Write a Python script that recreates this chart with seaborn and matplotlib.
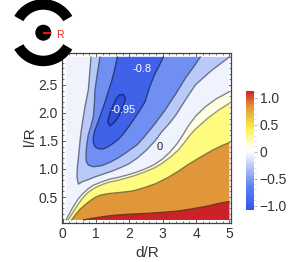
import numpy as np
import pandas as pd
import matplotlib
matplotlib.use('Agg')
import matplotlib.pyplot as plt
from matplotlib.colors import LinearSegmentedColormap, Normalize
from matplotlib.patches import Wedge, Circle
from matplotlib.cm import ScalarMappable
from matplotlib.ticker import MultipleLocator
import seaborn as sns

# Contour curves
d_light = [0.85, 0.81, 0.77, 0.72, 0.67, 0.60, 0.54, 0.49, 0.44, 0.43, 0.47, 0.58, 0.72, 0.97, 1.22, 1.47, 1.72, 1.98, 2.23, 2.50, 2.77, 2.98, 3.18, 3.38, 3.68, 3.98, 4.45, 5.0]
l_light = [3.0, 2.70, 2.41, 2.26, 2.11, 1.85, 1.61, 1.30, 1.02, 0.85, 0.73, 0.77, 0.80, 0.86, 0.91, 0.96, 1.02, 1.09, 1.19, 1.33, 1.50, 1.67, 1.80, 1.95, 2.23, 2.50, 2.75, 3.0]
d_mid = [1.12, 1.04, 0.97, 0.95, 0.92, 0.85, 0.77, 0.72, 0.70, 0.71, 0.77, 0.92, 1.17, 1.42, 1.67, 1.92, 2.23, 2.47, 2.77, 3.07, 3.38, 3.68, 3.90, 4.13]
l_mid = [3.0, 2.70, 2.41, 2.15, 1.93, 1.77, 1.61, 1.42, 1.25, 1.13, 1.07, 1.04, 1.06, 1.12, 1.20, 1.30, 1.43, 1.59, 1.81, 2.05, 2.33, 2.62, 2.80, 3.0]
d_deep = [1.64, 1.57, 1.48, 1.36, 1.24, 1.13, 1.03, 0.96, 0.92, 0.92, 0.97, 1.08, 1.22, 1.37, 1.52, 1.67, 1.81, 2.0, 2.17, 2.33, 2.47, 2.62, 2.77, 2.90, 3.02]
l_deep = [3.0, 2.80, 2.59, 2.36, 2.14, 1.95, 1.79, 1.68, 1.57, 1.47, 1.40, 1.36, 1.36, 1.40, 1.46, 1.53, 1.62, 1.77, 1.92, 2.06, 2.20, 2.48, 2.70, 2.85, 3.0]
d_core = [1.82, 1.89, 1.80, 1.67, 1.55, 1.42, 1.35, 1.42, 1.52, 1.60, 1.70, 1.82]
l_core = [2.33, 2.26, 2.10, 1.93, 1.83, 1.77, 1.84, 2.0, 2.14, 2.25, 2.32, 2.33]
d_zero = [0.10, 0.20, 0.32, 0.47, 0.62, 0.77, 0.92, 1.17, 1.42, 1.67, 1.92, 2.20, 2.47, 2.75, 2.98, 3.20, 3.43, 3.60, 3.77, 4.0, 4.28, 4.60, 5.0]
l_zero = [0.09, 0.20, 0.33, 0.47, 0.57, 0.65, 0.71, 0.77, 0.82, 0.85, 0.89, 0.94, 1.00, 1.08, 1.17, 1.29, 1.45, 1.60, 1.77, 1.95, 2.11, 2.25, 2.38]
d_cream = [0.16, 0.28, 0.42, 0.57, 0.72, 0.87, 1.02, 1.22, 1.42, 1.67, 1.92, 2.20, 2.47, 2.75, 2.98, 3.25, 3.47, 3.65, 3.80, 3.98, 4.38, 4.70, 5.0]
l_cream = [0.09, 0.20, 0.33, 0.46, 0.56, 0.63, 0.68, 0.73, 0.77, 0.80, 0.84, 0.89, 0.95, 1.02, 1.10, 1.22, 1.34, 1.47, 1.59, 1.71, 1.92, 2.06, 2.17]
d_yellow = [0.27, 0.38, 0.52, 0.67, 0.82, 0.97, 1.12, 1.37, 1.62, 1.87, 2.12, 2.47, 2.80, 3.17, 3.47, 3.77, 4.10, 4.48, 4.75, 5.0]
l_yellow = [0.09, 0.18, 0.28, 0.36, 0.43, 0.49, 0.53, 0.56, 0.575, 0.59, 0.61, 0.67, 0.74, 0.85, 0.96, 1.08, 1.20, 1.33, 1.41, 1.47]
d_red = [0.62, 0.90, 1.22, 1.57, 1.92, 2.62, 3.10, 3.47, 3.90, 4.28, 4.65, 5.0]
l_red = [0.09, 0.12, 0.15, 0.175, 0.19, 0.21, 0.23, 0.25, 0.29, 0.33, 0.38, 0.42]

x_ticks = [0, 1, 2, 3, 4, 5]
y_ticks = [0.5, 1.0, 1.5, 2.0, 2.5]
y_labels = ['0.5', '1.0', '1.5', '2.0', '2.5']
bar_ticks = [-1.0, -0.5, 0, 0.5, 1.0]
bar_labels = ['\u22121.0', '\u22120.5', '0', '0.5', '1.0']

sns.set_style('ticks')
plt.rcParams['font.family'] = ['Liberation Sans', 'DejaVu Sans']
text_col = '#333333'
W, H = 291, 262

fig = plt.figure(figsize=(W / 100, H / 100), dpi=100)
ax = fig.add_axes([62 / W, (H - 222.5) / H, 169 / W, 169.5 / H])
ax.set_xlim(-0.02, 5.05)
ax.set_ylim(0.045, 3.07)

# Background band, then each region on top of the previous one
x0, x1, y0, y1 = 0.1, 5.0, 0.09, 3.0
ax.fill([x0, x1, x1, x0], [y0, y0, y1, y1], color='#EEF3FE', lw=0, zorder=1)
ax.fill(d_light, l_light, color='#B9C9F8', lw=0, zorder=1.1)
ax.fill(d_mid, l_mid, color='#6F90F2', lw=0, zorder=1.2)
ax.fill(d_deep, l_deep, color='#3F62E8', lw=0, zorder=1.3)
ax.fill(d_core, l_core, color='#2E4FDC', lw=0, zorder=1.4)
ax.fill(d_zero + [x1], l_zero + [y0], color='#FEFEE3', lw=0, zorder=1.5)
ax.fill(d_cream + [x1], l_cream + [y0], color='#FFFB7F', lw=0, zorder=1.6)
ax.fill(d_yellow + [x1], l_yellow + [y0], color='#E19639', lw=0, zorder=1.7)
ax.fill(d_red + [x1], l_red + [y0], color='#CD2129', lw=0, zorder=1.8)

curves = [(d_light, l_light, '#6E7488'), (d_mid, l_mid, '#505C88'), (d_deep, l_deep, '#2A3A80'),
          (d_core, l_core, '#1A2A80'), (d_zero, l_zero, '#858585'), (d_cream, l_cream, '#99997A'),
          (d_yellow, l_yellow, '#84763A'), (d_red, l_red, '#6E3A1A')]
for xs, ys, col in curves:
    df = pd.DataFrame({'d': xs, 'l': ys})
    sns.lineplot(data=df, x='d', y='l', sort=False, estimator=None, color=col, lw=1.0, ax=ax, zorder=3)

ax.text(2.38, 2.79, '-0.8', color='white', fontsize=8, ha='center', va='center', zorder=4)
ax.text(1.81, 2.05, '-0.95', color='white', fontsize=8, ha='center', va='center', zorder=4)
ax.text(2.92, 1.39, '0', color='#222222', fontsize=8, ha='center', va='center', zorder=4)

ax.set_xticks(x_ticks)
ax.set_yticks(y_ticks)
ax.set_yticklabels(y_labels)
ax.xaxis.set_minor_locator(MultipleLocator(0.2))
ax.yaxis.set_minor_locator(MultipleLocator(0.1))
ax.tick_params(which='major', direction='in', top=True, right=True, length=3, width=0.6, color='#444444',
               labelsize=10, labelcolor=text_col, pad=3)
ax.tick_params(which='minor', direction='in', top=True, right=True, length=1.5, width=0.5, color='#444444')
for s in ax.spines.values():
    s.set_visible(True)
    s.set_color('#444444')
    s.set_linewidth(0.9)
ax.set_xlabel('')
ax.set_ylabel('')
fig.text(147 / W, (H - 253) / H, 'd/R', fontsize=11, color=text_col, ha='center', va='center')
fig.text(30 / W, (H - 137) / H, 'l/R', fontsize=11, color=text_col, ha='center', va='center', rotation=90)

# Colour bar
cmap = LinearSegmentedColormap.from_list('rb', [(0.0, '#3355EE'), (0.2, '#5F82F0'), (0.37, '#B9C9F8'),
                                                (0.49, '#FFFFFF'), (0.54, '#FEFEE3'), (0.68, '#FFF04A'),
                                                (0.87, '#E19639'), (1.0, '#CD2129')])
cax = fig.add_axes([246 / W, (H - 210) / H, 8 / W, 119.3 / H])
cb = fig.colorbar(ScalarMappable(Normalize(-1.08, 1.13), cmap), cax=cax)
cb.outline.set_visible(False)
cb.set_ticks(bar_ticks)
cb.set_ticklabels(bar_labels)
cb.ax.yaxis.set_minor_locator(MultipleLocator(0.1))
cb.ax.tick_params(which='major', length=2.5, width=0.5, color='#999999', labelsize=10, labelcolor=text_col, pad=1.5)
cb.ax.tick_params(which='minor', length=1.5, width=0.4, color='#BBBBBB')

# Sketch of the ring and disc in the corner, in pixel coordinates
over = fig.add_axes([0, 0, 1, 1], facecolor='none')
over.set_xlim(0, W)
over.set_ylim(0, H)
over.axis('off')
cx, cy = 43.3, H - 32.7
over.add_patch(Wedge((cx, cy), 33.5, 30, 150, width=10.5, color='black', lw=0))
over.add_patch(Wedge((cx, cy), 33.5, 210, 330, width=10.5, color='black', lw=0))
over.add_patch(Circle((cx, cy), 8, color='black', lw=0))
over.plot([cx, cx + 7.5], [cy, cy], color='#EE1111', lw=1.5, solid_capstyle='butt')
over.text(59.5, H - 35, 'R', color='#EE2222', fontsize=7.5, ha='center', va='center')

fig.savefig('out.png', dpi=100)
